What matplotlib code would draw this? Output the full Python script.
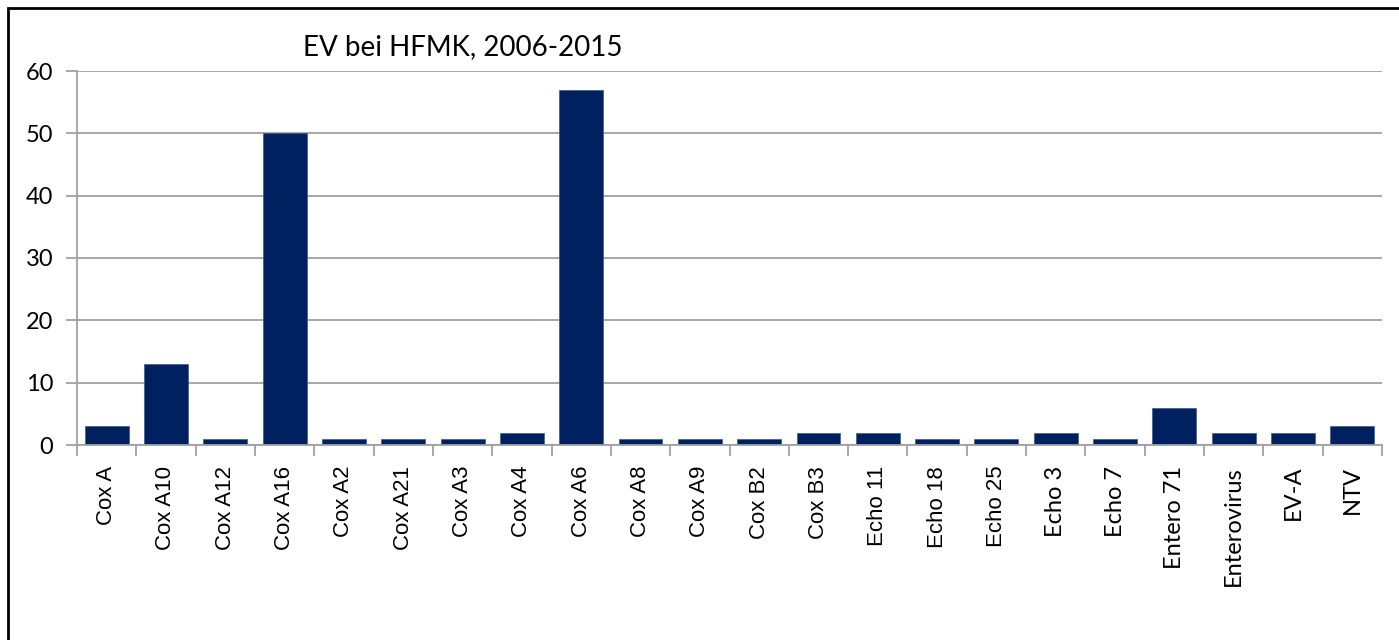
import matplotlib
matplotlib.use("Agg")
import matplotlib.pyplot as plt
from matplotlib.patches import Rectangle
import numpy as np

categories = ["Cox A", "Cox A10", "Cox A12", "Cox A16", "Cox A2", "Cox A21", "Cox A3",
              "Cox A4", "Cox A6", "Cox A8", "Cox A9", "Cox B2", "Cox B3", "Echo 11",
              "Echo 18", "Echo 25", "Echo 3", "Echo 7", "Entero 71", "Enterovirus",
              "EV-A", "NTV"]
values = [3, 13, 1, 50, 1, 1, 1, 2, 57, 1, 1, 1, 2, 2, 1, 1, 2, 1, 6, 2, 2, 3]
yticks = [0, 10, 20, 30, 40, 50, 60]
title = "EV bei HFMK, 2006-2015"

W, H = 1399, 640
fig = plt.figure(figsize=(W / 100, H / 100), dpi=100)
fig.patches.append(Rectangle((8 / W, -0.05), 1.2, 1 - 8 / H + 0.05, transform=fig.transFigure,
                             fill=False, edgecolor="black", linewidth=2.0))

ax = fig.add_axes([77 / W, 1 - 445 / H, (1382 - 77) / W, (445 - 71) / H])
x = np.arange(len(categories))
ax.bar(x, values, width=0.74, color="#00205F", edgecolor="#3A5A8C", linewidth=0.5, zorder=3)
ax.set_xlim(-0.5, len(categories) - 0.5)
ax.set_ylim(0, 60)
ax.set_yticks(yticks)
ax.set_yticklabels([str(v) for v in yticks], fontfamily="Lato", fontsize=17)
ax.yaxis.grid(True, color="#A0A0A0", linewidth=1.3, zorder=0)
ax.tick_params(axis="y", length=8, width=1.3, color="#A0A0A0", pad=9)

ax.set_xticks(x)
ax.set_xticklabels(categories, rotation=90, fontsize=16, va="top", ha="center")
for i, lab in enumerate(ax.get_xticklabels()):
    if i >= 16:
        lab.set_fontfamily("Lato")
        lab.set_fontsize(17)
    else:
        lab.set_fontfamily("Liberation Sans")
ax.tick_params(axis="x", length=0, pad=15)
ax.set_xticks(np.arange(len(categories) + 1) - 0.5, minor=True)
ax.tick_params(axis="x", which="minor", length=8, width=1.3, color="#A0A0A0")

for s in ["top", "right"]:
    ax.spines[s].set_visible(False)
for s in ["left", "bottom"]:
    ax.spines[s].set_color("#A0A0A0")
    ax.spines[s].set_linewidth(1.3)
ax.spines["bottom"].set_zorder(4)

fig.text(463 / W, 1 - 47 / H, title, ha="center", va="center", fontfamily="Lato", fontsize=20)

fig.savefig("out.png", dpi=100)
